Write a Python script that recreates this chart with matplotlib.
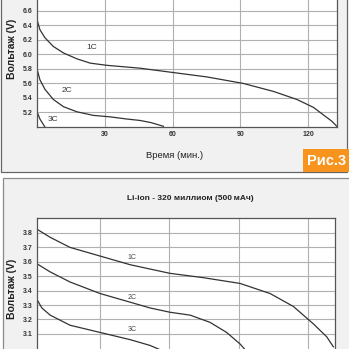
import matplotlib
matplotlib.use('Agg')
import matplotlib.pyplot as plt
from matplotlib.patches import Rectangle

plt.rcParams['font.family'] = ['Liberation Sans', 'DejaVu Sans']

# upper chart: discharge curves, minutes vs volts
top_1c_t = [0, 1.3, 3.5, 7.2, 11.7, 17.6, 23.5, 30.8, 38.2, 45.6, 60.3, 75.1, 91.3,
            104.6, 114.9, 122.3, 127.4, 130.4, 132.6]
top_1c_v = [6.48, 6.34, 6.23, 6.11, 6.02, 5.94, 5.88, 5.85, 5.83, 5.81, 5.75, 5.69, 5.60,
            5.49, 5.38, 5.27, 5.15, 5.08, 5.01]
top_2c_t = [0, 1.3, 3.5, 7.2, 11.7, 17.6, 24.9, 32.3, 39.7, 45.6, 50.5, 55.9]
top_2c_v = [5.80, 5.65, 5.52, 5.38, 5.28, 5.21, 5.16, 5.14, 5.11, 5.09, 5.06, 5.01]
top_3c_t = [0, 1.3, 3.5]
top_3c_v = [5.21, 5.11, 5.00]
top_yticks = [5.2, 5.4, 5.6, 5.8, 6.0, 6.2, 6.4, 6.6]
top_xticks = [30, 60, 90, 120]

# lower chart: Li-ion 320 mOhm
bot_1c_t = [2.3, 8.4, 17, 30, 43, 51.6, 60.3, 74.7, 90.6, 103.6, 113.7, 122.3, 128.1, 131]
bot_1c_v = [3.83, 3.77, 3.70, 3.64, 3.58, 3.55, 3.52, 3.49, 3.45, 3.38, 3.29, 3.17, 3.08, 3.01]
bot_2c_t = [2.3, 8.4, 17, 30, 43, 51.6, 60.3, 69, 77.6, 84.8, 90.6, 92.8]
bot_2c_v = [3.59, 3.53, 3.46, 3.38, 3.32, 3.28, 3.25, 3.23, 3.18, 3.11, 3.03, 2.99]
bot_3c_t = [2.3, 4.8, 8.4, 17, 30, 43, 51.6, 56]
bot_3c_v = [3.35, 3.28, 3.23, 3.16, 3.11, 3.06, 3.02, 2.99]
bot_yticks = [3.1, 3.2, 3.3, 3.4, 3.5, 3.6, 3.7, 3.8]
bot_xgrid = [30, 60, 90, 120]

W = H = 349.0
LINE = '#333333'
GRID = '#b0b0b0'
PANEL = '#f1f1f1'


def fx(px):
    return px / W


def fy(py):
    return 1 - py / H


def box(x0, y0, x1, y1, **kw):
    # rectangle given in pixel coords (y downwards)
    return Rectangle((fx(x0), fy(y1)), fx(x1) - fx(x0), fy(y0) - fy(y1),
                     transform=fig.transFigure, **kw)


def style_axes(ax, yticks, xticks):
    ax.set_yticks(yticks)
    ax.set_yticklabels([f'{v:.1f}' for v in yticks])
    ax.set_xticks(xticks)
    ax.grid(True, color=GRID, linewidth=0.8)
    ax.set_axisbelow(True)
    ax.tick_params(length=0, labelsize=5, pad=3, colors='#333333')
    for lab in ax.get_xticklabels() + ax.get_yticklabels():
        lab.set_fontweight('bold')
    for sp in ax.spines.values():
        sp.set_color('#555555')
        sp.set_linewidth(0.9)


fig = plt.figure(figsize=(3.49, 3.49), dpi=100)
fig.patch.set_facecolor('white')

# panel backgrounds
fig.add_artist(box(1, -10, 347, 172, facecolor=PANEL, edgecolor='#666666', linewidth=0.9, zorder=-5))
fig.add_artist(box(3, 178, 360, 360, facecolor=PANEL, edgecolor='#8a8a8a', linewidth=0.9, zorder=-5))

# upper chart
ax1 = fig.add_axes([fx(37), fy(127), fx(337) - fx(37), fy(-20) - fy(127)])
ax1.set_facecolor('white')
ax1.plot(top_1c_t, top_1c_v, color=LINE, lw=0.9)
ax1.plot(top_2c_t, top_2c_v, color=LINE, lw=0.9)
ax1.plot(top_3c_t, top_3c_v, color=LINE, lw=0.9)
ax1.set_xlim(0, 132.7)
ax1.set_ylim(5.0, 7.025)
style_axes(ax1, top_yticks, top_xticks)
ax1.text(24.2, 6.09, '1C', fontsize=6, color='#333333', ha='center', va='center')
ax1.text(13.1, 5.50, '2C', fontsize=6, color='#333333', ha='center', va='center')
ax1.text(6.9, 5.10, '3C', fontsize=6, color='#333333', ha='center', va='center')

fig.text(fx(175), fy(155), 'Время (мин.)', fontsize=6.8, color='#222222', ha='center', va='center')
fig.text(fx(12), fy(49), 'Вольтаж (V)', fontsize=7.5, fontweight='bold', color='#222222',
         rotation=90, ha='center', va='center')

# figure tag
fig.add_artist(box(303, 149, 352, 172, facecolor='#f7941d', edgecolor='none', zorder=-4))
fig.text(fx(327), fy(161), 'Рис.3', fontsize=10.5, fontweight='bold', color='white',
         ha='center', va='center')

# lower chart
ax2 = fig.add_axes([fx(37), fy(380), fx(335) - fx(37), fy(218) - fy(380)])
ax2.set_facecolor('white')
ax2.plot(bot_1c_t, bot_1c_v, color=LINE, lw=0.9)
ax2.plot(bot_2c_t, bot_2c_v, color=LINE, lw=0.9)
ax2.plot(bot_3c_t, bot_3c_v, color=LINE, lw=0.9)
ax2.set_xlim(2.7, 131.7)
ax2.set_ylim(2.78, 3.904)
style_axes(ax2, bot_yticks, bot_xgrid)
ax2.set_xticklabels([])
ax2.text(43.7, 3.63, '1C', fontsize=5, color='#444444', ha='center', va='center')
ax2.text(43.7, 3.35, '2C', fontsize=5, color='#444444', ha='center', va='center')
ax2.text(43.7, 3.13, '3C', fontsize=5, color='#444444', ha='center', va='center')

fig.text(fx(190), fy(199), 'Li-ion - 320 миллиом (500\u2009мАч)', fontsize=6, fontweight='bold',
         color='#222222', ha='center', va='center')
fig.text(fx(12), fy(289), 'Вольтаж (V)', fontsize=7.5, fontweight='bold', color='#222222',
         rotation=90, ha='center', va='center')

fig.savefig('out.png', dpi=100, facecolor=fig.get_facecolor())
